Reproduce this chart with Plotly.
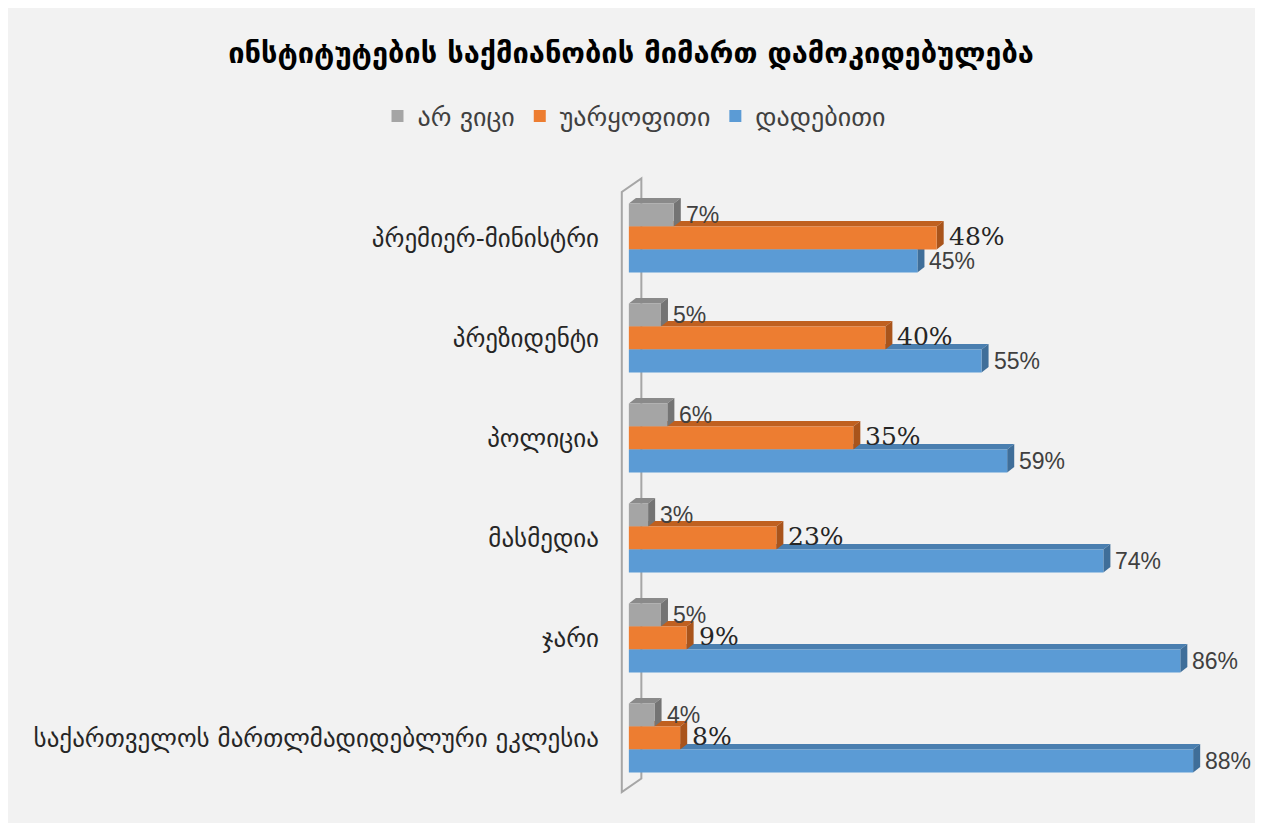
import plotly.graph_objects as go

# ---------------- data ----------------
categories = [
    "პრემიერ-მინისტრი",
    "პრეზიდენტი",
    "პოლიცია",
    "მასმედია",
    "ჯარი",
    "საქართველოს მართლმადიდებლური ეკლესია",
]
series_names = ["არ ვიცი", "უარყოფითი", "დადებითი"]
dont_know = [7, 5, 6, 3, 5, 4]
negative = [48, 40, 35, 23, 9, 8]
positive = [45, 55, 59, 74, 86, 88]
title_text = "ინსტიტუტების საქმიანობის მიმართ დამოკიდებულება"

# ---------------- style ----------------
front_colors = ["#a5a5a5", "#ed7d31", "#5b9bd5"]
top_colors = ["#8a8a8a", "#c0601f", "#4a7fb0"]
side_colors = ["#747474", "#a9541b", "#3f6e99"]
label_fonts = [
    dict(family="Liberation Sans", size=23, color="#404040"),
    dict(family="DejaVu Serif", size=25, color="#262626"),
    dict(family="Liberation Sans", size=23, color="#404040"),
]
BAR_W = 0.23
DX = 1.1      # 3D depth in x units
DY = 0.055    # 3D depth in y units

series_values = [dont_know, negative, positive]
ypos = list(range(len(categories)))

fig = go.Figure()
shapes = []

# 3D back wall (left side)
wx_f, wx_b = -1.1, 1.95
wy_t, wy_b = -0.46, len(categories) - 0.46
rise = 0.135
shapes.append(dict(type="path", xref="x", yref="y", layer="below",
                   path=f"M {wx_f},{wy_b} L {wx_f},{wy_t} L {wx_b},{wy_t-rise} L {wx_b},{wy_b-rise} Z",
                   line=dict(color="#a6a6a6", width=2), fillcolor="rgba(0,0,0,0)"))

for i, (name, vals) in enumerate(zip(series_names, series_values)):
    off = -1.5 * BAR_W + i * BAR_W
    fig.add_trace(go.Bar(
        name=name, orientation="h", y=ypos, x=vals,
        width=BAR_W, offset=off,
        marker=dict(color=front_colors[i], line=dict(width=0)),
        hoverinfo="x+name",
    ))

# depth faces: draw lower series first so upper ones overlap them
for i in reversed(range(len(series_values))):
    off = -1.5 * BAR_W + i * BAR_W
    for j, v in enumerate(series_values[i]):
        yt = j + off
        yb = yt + BAR_W
        top = f"M 0,{yt} L {v},{yt} L {v+DX},{yt-DY} L {DX},{yt-DY} Z"
        side = f"M {v},{yt} L {v+DX},{yt-DY} L {v+DX},{yb-DY} L {v},{yb} Z"
        shapes.append(dict(type="path", xref="x", yref="y", layer="below", path=top,
                           fillcolor=top_colors[i], line=dict(width=0)))
        shapes.append(dict(type="path", xref="x", yref="y", layer="below", path=side,
                           fillcolor=side_colors[i], line=dict(width=0)))

annotations = []
for i, vals in enumerate(series_values):
    off = -1.5 * BAR_W + i * BAR_W
    for j, v in enumerate(vals):
        annotations.append(dict(
            x=v, y=j + off + BAR_W / 2, xref="x", yref="y",
            text=f"{v}%", showarrow=False, xanchor="left", yanchor="middle",
            xshift=10, yshift=(2 if i == 1 else 0), font=label_fonts[i]))

fig.update_layout(
    width=1263, height=823,
    margin=dict(l=592, r=33, t=164, b=31),
    paper_bgcolor="#f2f2f2",
    plot_bgcolor="rgba(0,0,0,0)",
    barmode="overlay",
    title=dict(text=title_text, x=623 / 1263, xref="container", y=1 - 45 / 823,
               yref="container", xanchor="center", yanchor="middle",
               font=dict(family="DejaVu Sans", size=29, color="#000000", weight="bold")),
    legend=dict(orientation="h", x=626 / 1263, xref="container", xanchor="center",
                y=1 - 108 / 823, yref="container", yanchor="middle",
                font=dict(family="DejaVu Sans", size=26, color="#404040"),
                bgcolor="rgba(0,0,0,0)", itemwidth=30),
    xaxis=dict(range=[-4.5, 95], visible=False, fixedrange=True),
    yaxis=dict(range=[len(categories) - 0.38, -0.66], tickvals=ypos, ticktext=categories,
               showgrid=False, zeroline=False, showline=False, ticks="",
               tickfont=dict(family="DejaVu Sans", size=25, color="#262626"),
               fixedrange=True),
    shapes=shapes,
    annotations=annotations,
    showlegend=True,
)

fig.write_html("out.html")
